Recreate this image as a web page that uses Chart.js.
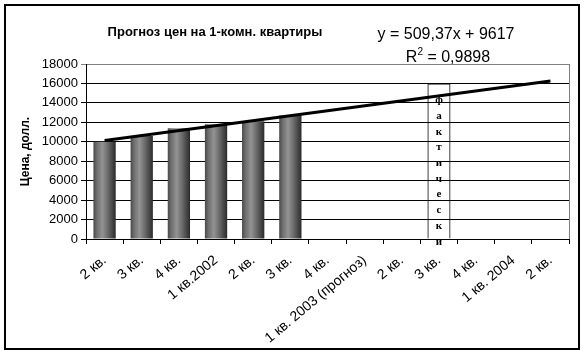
<!DOCTYPE html>
<html>
<head>
<meta charset="utf-8">
<script src="https://cdn.jsdelivr.net/npm/chart.js@4/dist/chart.umd.min.js"></script>
<style>
  body { margin: 0; background: #fff; }
  #chart { display: block; }
</style>
</head>
<body>
<canvas id="chart" width="584" height="355"></canvas>
<script>
// данные
const categories = ['2 кв.', '3 кв.', '4 кв.', '1 кв.2002', '2 кв.', '3 кв.', '4 кв.',
  '1 кв. 2003 (прогноз)', '2 кв.', '3 кв.', '4 кв.', '1 кв. 2004', '2 кв.'];
const prices = [10000, 10600, 11400, 11800, 12100, 12700, null, null, null, null, null, null, null];
const noteBox = [null, null, null, null, null, null, null, null, null, 16000, null, null, null];
const trend = [10130, null, null, null, null, null, null, null, null, null, null, null, 16240];
const yMin = 0, yMax = 18000, yStep = 2000;

const titleText = 'Прогноз цен на 1-комн. квартиры';
const eqText = 'y = 509,37x + 9617';
const r2Value = ' = 0,9898';
const noteText = 'фактически';
const yTitle = 'Цена, долл.';

function barFill(c) {
  const chart = c.chart;
  if (!chart.chartArea || !chart.scales.x) return '#777';
  const x = chart.scales.x.getPixelForValue(c.dataIndex);
  const half = 11;
  const g = chart.ctx.createLinearGradient(x - half, 0, x + half, 0);
  g.addColorStop(0, '#4a4a4a');
  g.addColorStop(0.15, '#6e6e6e');
  g.addColorStop(0.4, '#939393');
  g.addColorStop(0.65, '#6a6a6a');
  g.addColorStop(1, '#2c2c2c');
  return g;
}

const decor = {
  id: 'decor',
  beforeDatasetsDraw(chart) {
    const ctx = chart.ctx, a = chart.chartArea;
    ctx.save();
    ctx.strokeStyle = '#808080';
    ctx.lineWidth = 1;
    ctx.beginPath();
    ctx.moveTo(Math.round(a.right) + 0.5, a.top);
    ctx.lineTo(Math.round(a.right) + 0.5, a.bottom);
    ctx.stroke();
    ctx.restore();
  },
  afterDatasetsDraw(chart) {
    // вертикальная надпись в рамке
    const ctx = chart.ctx;
    const el = chart.getDatasetMeta(1).data[9];
    ctx.save();
    ctx.fillStyle = '#000';
    ctx.font = 'bold 11px "Liberation Serif"';
    ctx.textAlign = 'center';
    ctx.textBaseline = 'middle';
    for (let i = 0; i < noteText.length; i++) {
      ctx.fillText(noteText[i], el.x, el.y + 17 + i * 15.7);
    }
    ctx.restore();
  },
  afterDraw(chart) {
    const ctx = chart.ctx;
    ctx.save();
    ctx.strokeStyle = '#000';
    ctx.lineWidth = 2;
    ctx.strokeRect(5, 5, 574, 344);
    ctx.fillStyle = '#000';
    ctx.textBaseline = 'middle';
    ctx.textAlign = 'center';
    ctx.font = 'bold 13px "Liberation Sans"';
    ctx.fillText(titleText, 215, 32);
    ctx.font = '16px "Liberation Sans"';
    ctx.fillText(eqText, 446, 35);
    // R²
    const w1 = ctx.measureText('R').width;
    ctx.font = '10px "Liberation Sans"';
    const w2 = ctx.measureText('2').width;
    ctx.font = '16px "Liberation Sans"';
    const w3 = ctx.measureText(r2Value).width;
    let x = 448 - (w1 + w2 + w3) / 2;
    ctx.textAlign = 'left';
    ctx.fillText('R', x, 58);
    ctx.font = '10px "Liberation Sans"';
    ctx.fillText('2', x + w1, 52);
    ctx.font = '16px "Liberation Sans"';
    ctx.fillText(r2Value, x + w1 + w2, 58);
    ctx.restore();
  }
};

new Chart(document.getElementById('chart'), {
  data: {
    labels: categories,
    datasets: [
      {
        type: 'line',
        data: trend,
        spanGaps: true,
        borderColor: '#000',
        borderWidth: 3,
        pointRadius: 0,
        order: 0
      },
      {
        type: 'bar',
        data: noteBox,
        grouped: false,
        backgroundColor: 'rgba(0,0,0,0)',
        borderColor: '#000',
        borderWidth: 1,
        categoryPercentage: 1,
        barPercentage: 0.62,
        order: 1
      },
      {
        type: 'bar',
        data: prices,
        grouped: false,
        backgroundColor: barFill,
        borderWidth: 0,
        categoryPercentage: 1,
        barPercentage: 0.6,
        order: 2
      }
    ]
  },
  options: {
    responsive: false,
    animation: false,
    layout: { padding: { top: 64, right: 15, left: 10, bottom: 6 } },
    plugins: { legend: { display: false }, tooltip: { enabled: false } },
    scales: {
      x: {
        offset: true,
        grid: { drawOnChartArea: false, tickLength: 5, color: '#000', offset: true },
        border: { color: '#000', width: 1 },
        ticks: {
          minRotation: 40, maxRotation: 40, autoSkip: false, padding: 8,
          color: '#000', font: { family: 'Liberation Sans', size: 14 }
        },
        afterFit(s) { s.height = 110; }
      },
      y: {
        min: yMin, max: yMax,
        grid: {
          color: c => (c.tick && c.tick.value === yMax ? '#808080' : '#000'),
          tickLength: 5
        },
        border: { color: '#000', width: 1 },
        ticks: {
          stepSize: yStep, padding: 3, color: '#000',
          font: { family: 'Liberation Sans', size: 13 },
          callback: v => String(v)
        },
        title: {
          display: true, text: yTitle, color: '#000', padding: { top: 8, bottom: 0 },
          font: { family: 'Liberation Sans', size: 12, weight: 'bold' }
        },
        afterFit(s) { s.width = 76; }
      }
    }
  },
  plugins: [decor]
});
</script>
</body>
</html>
